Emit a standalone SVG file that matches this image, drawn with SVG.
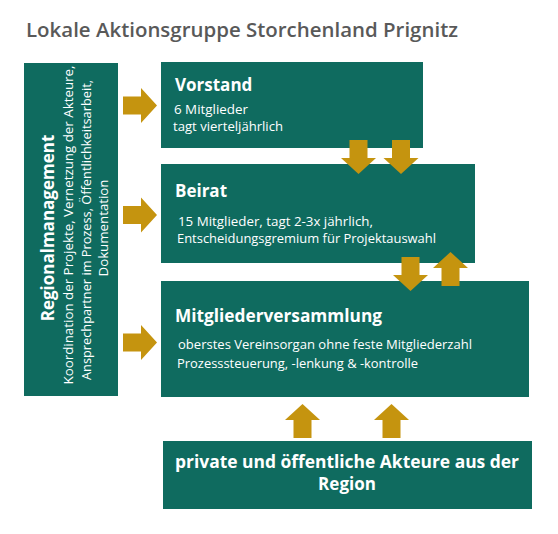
<svg xmlns="http://www.w3.org/2000/svg" width="558" height="534" viewBox="0 0 558 534">
<style>
.box{fill:#0f6b5f}
.arr{fill:#c5940f}
.t{font-family:"Open Sans","Liberation Sans",sans-serif;fill:#ffffff}
.h{font-size:17px;font-weight:700}
.s{font-size:13px}
.title{font-family:"Open Sans","Liberation Sans",sans-serif;font-size:20px;font-weight:600;fill:#595959}
</style>
<defs>
<polygon id="arrow" points="0,-9 18,-9 18,-17.5 34,0 18,17.5 18,9 0,9"/>
</defs>
<rect width="558" height="534" fill="#ffffff"/>
<text class="title" x="26" y="37" textLength="432" lengthAdjust="spacingAndGlyphs">Lokale Aktionsgruppe Storchenland Prignitz</text>

<g id="regionalmanagement">
<rect class="box" x="24" y="63" width="94" height="333"/>
<g transform="translate(0,228) rotate(-90)">
<text class="t h" x="0" y="54" text-anchor="middle" font-size="18">Regionalmanagement</text>
<text class="t s" x="3" y="73" text-anchor="middle" font-size="12.5" textLength="319" lengthAdjust="spacingAndGlyphs">Koordination der Projekte, Vernetzung der Akteure,</text>
<text class="t s" x="-2" y="91" text-anchor="middle" font-size="12.5" textLength="300" lengthAdjust="spacingAndGlyphs">Ansprechpartner im Prozess, Öffentlichkeitsarbeit,</text>
<text class="t s" x="0" y="108" text-anchor="middle" font-size="12.5" textLength="97" lengthAdjust="spacingAndGlyphs">Dokumentation</text>
</g>
</g>

<g id="vorstand">
<rect class="box" x="161" y="62" width="262" height="86"/>
<text class="t h" x="175" y="91">Vorstand</text>
<text class="t s" x="174" y="114" textLength="74" lengthAdjust="spacingAndGlyphs">6 Mitglieder</text>
<text class="t s" x="173" y="131" textLength="110" lengthAdjust="spacingAndGlyphs">tagt vierteljährlich</text>
</g>

<g id="beirat">
<rect class="box" x="161" y="164" width="314" height="99"/>
<text class="t h" x="175" y="197">Beirat</text>
<text class="t s" x="178" y="226" textLength="195" lengthAdjust="spacingAndGlyphs">15 Mitglieder, tagt 2-3x jährlich,</text>
<text class="t s" x="177" y="243" textLength="259" lengthAdjust="spacingAndGlyphs">Entscheidungsgremium für Projektauswahl</text>
</g>

<g id="mitgliederversammlung">
<rect class="box" x="161" y="281" width="368" height="116"/>
<text class="t h" x="175" y="322" textLength="207" lengthAdjust="spacingAndGlyphs">Mitgliederversammlung</text>
<text class="t s" x="178" y="349" textLength="294" lengthAdjust="spacingAndGlyphs">oberstes Vereinsorgan ohne feste Mitgliederzahl</text>
<text class="t s" x="177" y="368" textLength="241" lengthAdjust="spacingAndGlyphs">Prozesssteuerung, -lenkung &amp; -kontrolle</text>
</g>

<g id="akteure">
<rect class="box" x="163" y="441" width="369" height="68"/>
<text class="t h" x="347" y="468" text-anchor="middle" textLength="344" lengthAdjust="spacingAndGlyphs">private und öffentliche Akteure aus der</text>
<text class="t h" x="347" y="490" text-anchor="middle">Region</text>
</g>

<g id="connectors" class="arr">
<use href="#arrow" transform="translate(123,105.5)"/>
<use href="#arrow" transform="translate(123,215)"/>
<use href="#arrow" transform="translate(123,342.5)"/>
<use href="#arrow" transform="translate(358.5,140) rotate(90)"/>
<use href="#arrow" transform="translate(401,140) rotate(90)"/>
<use href="#arrow" transform="translate(410.5,257) rotate(90)"/>
<use href="#arrow" transform="translate(450.5,286) rotate(-90)"/>
<use href="#arrow" transform="translate(302.5,438) rotate(-90)"/>
<use href="#arrow" transform="translate(391.5,438) rotate(-90)"/>
</g>
</svg>
